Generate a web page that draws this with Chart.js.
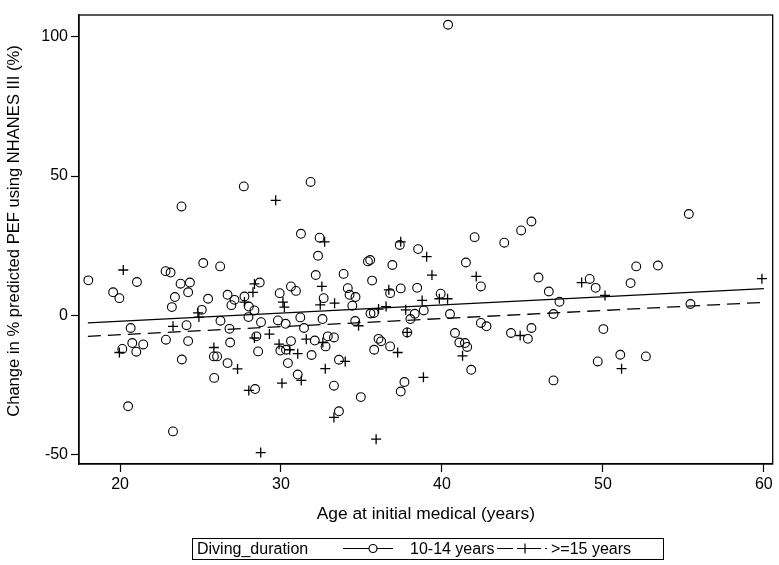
<!DOCTYPE html>
<html>
<head>
<meta charset="utf-8">
<script src="https://cdn.jsdelivr.net/npm/chart.js@4/dist/chart.umd.min.js"></script>
<style>
	html, body { margin: 0; padding: 0; background: #fff; }
	#wrap { width: 779px; height: 565px; }
</style>
</head>
<body>
<div id="wrap"><canvas id="chart" width="779" height="565"></canvas></div>
<script>
'use strict';

// 10-14 years (circles)
const ageShort = [
	18.03, 23.82, 27.69, 31.84, 31.24, 25.17, 26.22, 22.83, 23.14, 21.05,
	19.57, 19.96, 23.76, 24.34, 23.41, 24.23, 23.22, 25.47, 26.68, 27.11,
	26.92, 27.73, 28.0, 28.35, 28.68, 27.98, 25.08, 29.92, 30.62, 30.93,
	32.16, 31.2, 31.43, 29.81, 30.29, 26.24, 28.76, 26.8, 24.13, 20.66,
	20.76, 21.44, 21.01, 20.14, 22.85, 24.23, 26.84, 28.47, 28.58, 29.96,
	30.31, 30.62, 30.43, 31.9, 32.1, 23.84, 25.83, 26.03, 26.68, 25.85,
	31.04, 28.39, 20.5, 23.29, 32.4, 32.3, 35.4, 35.54, 36.92, 37.38,
	38.52, 42.03, 43.87, 44.92, 45.56, 41.49, 33.89, 35.66, 34.15, 34.26,
	34.63, 34.43, 32.65, 36.78, 37.44, 38.46, 39.92, 42.42, 46.0, 35.56,
	35.77, 38.31, 38.87, 40.5, 38.04, 32.58, 34.61, 37.84, 40.81, 42.42,
	42.77, 44.29, 45.56, 45.34, 32.91, 33.29, 32.77, 36.06, 36.22, 35.79,
	36.78, 41.08, 41.43, 41.57, 41.82, 33.6, 33.29, 34.96, 37.67, 37.44,
	33.6, 55.34, 52.07, 53.42, 49.18, 49.55, 51.72, 46.64, 47.3, 46.93,
	55.44, 50.03, 49.68, 51.08, 52.67, 46.93, 40.38
];
const changeShort = [
	12.6, 39.1, 46.3, 47.9, 29.3, 18.8, 17.6, 15.9, 15.4, 12.0,
	8.3, 6.2, 11.4, 11.8, 6.6, 8.3, 3.0, 6.0, 7.4, 5.6,
	3.7, 6.8, 3.2, 1.8, 11.8, -0.6, 2.0, 8.0, 10.4, 8.8,
	14.5, -0.7, -4.5, -1.8, -3.0, -1.9, -2.4, -4.8, -3.5, -4.5,
	-9.9, -10.4, -13.0, -12.0, -8.7, -9.2, -9.7, -7.5, -12.9, -12.6,
	-12.3, -9.2, -17.1, -14.2, -9.0, -15.8, -14.7, -14.7, -17.1, -22.4,
	-21.2, -26.4, -32.6, -41.6, 27.9, 21.4, 19.4, 19.9, 18.1, 25.3,
	23.8, 28.1, 26.1, 30.5, 33.7, 19.0, 14.9, 12.5, 9.8, 7.4,
	6.6, 3.5, 6.2, 8.0, 9.7, 9.9, 7.8, 10.4, 13.6, 0.7,
	0.9, 0.6, 1.8, 0.5, -1.3, -1.3, -2.0, -6.1, -6.3, -2.7,
	-3.9, -6.3, -4.5, -8.4, -7.5, -7.9, -11.1, -8.4, -9.3, -12.3,
	-11.1, -9.7, -9.9, -11.3, -19.5, -15.9, -25.2, -29.3, -23.9, -27.3,
	-34.4, 36.4, 17.6, 17.9, 13.1, 9.9, 11.6, 8.6, 4.9, 0.5,
	4.1, -4.9, -16.5, -14.1, -14.7, -23.3, 104.3
];

// >=15 years (plus signs)
const ageLong = [
	29.67, 20.2, 28.35, 28.26, 27.73, 30.12, 30.21, 24.84, 24.9, 23.29,
	19.96, 25.83, 28.35, 29.28, 29.88, 30.54, 31.04, 31.57, 27.3, 30.06,
	31.26, 28.0, 28.74, 32.71, 37.44, 39.05, 39.38, 42.13, 32.54, 32.44,
	33.33, 36.7, 36.53, 36.06, 37.75, 38.77, 39.84, 40.35, 34.82, 32.6,
	37.25, 33.99, 32.75, 41.28, 38.85, 44.86, 33.29, 35.91, 37.84, 48.68,
	50.13, 51.16, 59.88
];
const changeLong = [
	41.3, 16.3, 11.3, 8.3, 4.8, 4.8, 3.0, 0.9, -0.6, -3.9,
	-13.3, -11.5, -8.1, -6.7, -10.3, -12.3, -13.7, -8.5, -19.2, -24.3,
	-23.3, -26.9, -49.2, 26.4, 26.4, 21.1, 14.5, 14.0, 10.4, 3.8,
	4.4, 9.2, 3.2, 2.3, 2.0, 5.4, 6.0, 6.0, -3.7, -9.7,
	-13.3, -16.5, -19.1, -14.5, -22.2, -7.2, -36.6, -44.4, -6.1, 11.8,
	7.2, -19.1, 13.2
];

// fitted lines (end points)
const fitAge = [18, 60];
const fitShort = [-2.7, 9.6];
const fitLong = [-7.5, 4.7];

const groupLabels = ['10-14 years', '>=15 years'];
const legendTitle = 'Diving_duration';
const yTitle = 'Change in % predicted PEF using NHANES III (%)';
const xTitle = 'Age at initial medical (years)';
const xTicks = [20, 30, 40, 50, 60];
const yTicks = [-50, 0, 50, 100];

const FONT = 'Arial, "Liberation Sans", sans-serif';

function toPoints(xs, ys) {
	return xs.map((x, i) => ({ x: x, y: ys[i] }));
}

function getDatasets() {
	return [
		{
			type: 'scatter',
			label: groupLabels[0],
			data: toPoints(ageShort, changeShort),
			pointStyle: 'circle',
			pointRadius: 4.4,
			borderColor: '#000',
			backgroundColor: 'rgba(0,0,0,0)',
			pointBorderWidth: 1.1,
		},
		{
			type: 'scatter',
			label: groupLabels[1],
			data: toPoints(ageLong, changeLong),
			pointStyle: 'cross',
			pointRadius: 5,
			borderColor: '#000',
			backgroundColor: '#000',
			pointBorderWidth: 1.3,
		},
		{
			type: 'line',
			label: 'fit short',
			data: toPoints(fitAge, fitShort),
			borderColor: '#000',
			borderWidth: 1.3,
			pointRadius: 0,
			fill: false,
		},
		{
			type: 'line',
			label: 'fit long',
			data: toPoints(fitAge, fitLong),
			borderColor: '#000',
			borderWidth: 1.3,
			borderDash: [13, 7],
			pointRadius: 0,
			fill: false,
		},
	];
}

// frame round the plot, y title and the boxed legend
const framePlugin = {
	id: 'frame',
	afterDraw(chart) {
		const ctx = chart.ctx;
		const a = chart.chartArea;
		ctx.save();
		ctx.strokeStyle = '#000';
		ctx.fillStyle = '#000';
		ctx.lineWidth = 1.3;
		ctx.strokeRect(a.left, a.top, a.right - a.left, a.bottom - a.top);

		ctx.save();
		ctx.translate(14.5, 231);
		ctx.rotate(-Math.PI / 2);
		ctx.font = '16.6px ' + FONT;
		ctx.textAlign = 'center';
		ctx.textBaseline = 'middle';
		ctx.fillText(yTitle, 0, 0);
		ctx.restore();

		const top = 538, bottom = 559, left = 192, right = 663;
		const midY = (top + bottom) / 2;
		ctx.lineWidth = 1;
		ctx.strokeRect(left + 0.5, top + 0.5, right - left, bottom - top);
		ctx.font = '16px ' + FONT;
		ctx.textBaseline = 'middle';
		ctx.fillText(legendTitle, 197, midY + 1);

		// solid line with circle
		ctx.lineWidth = 1.2;
		ctx.beginPath();
		ctx.moveTo(343, midY);
		ctx.lineTo(393, midY);
		ctx.stroke();
		ctx.fillStyle = '#fff';
		ctx.beginPath();
		ctx.arc(373, midY, 4, 0, Math.PI * 2);
		ctx.fill();
		ctx.stroke();
		ctx.fillStyle = '#000';
		ctx.fillText(groupLabels[0], 410, midY + 1);

		// dashed line with plus
		ctx.setLineDash([16, 4, 24, 4, 2, 100]);
		ctx.beginPath();
		ctx.moveTo(497, midY);
		ctx.lineTo(548, midY);
		ctx.stroke();
		ctx.setLineDash([]);
		ctx.beginPath();
		ctx.moveTo(525, midY - 5);
		ctx.lineTo(525, midY + 5);
		ctx.stroke();
		ctx.fillText(groupLabels[1], 551, midY + 1);
		ctx.restore();
	},
};

function getX() {
	return {
		type: 'linear',
		min: 17.45,
		max: 60.55,
		afterBuildTicks: (scale) => {
			scale.ticks = xTicks.map((v) => ({ value: v }));
		},
		afterFit: (scale) => {
			scale.height = 61;
		},
		grid: {
			drawOnChartArea: false,
			drawTicks: true,
			tickLength: 8,
			tickColor: '#000',
			tickWidth: 1.2,
		},
		border: { display: true, color: '#000', width: 1.3 },
		ticks: {
			color: '#000',
			padding: 3,
			font: { size: 16, family: FONT },
		},
		title: {
			display: true,
			text: xTitle,
			color: '#000',
			padding: 0,
			font: { size: 17.4, family: FONT },
		},
	};
}

function getY() {
	return {
		type: 'linear',
		min: -53.3,
		max: 107.8,
		afterBuildTicks: (scale) => {
			scale.ticks = yTicks.map((v) => ({ value: v }));
		},
		afterFit: (scale) => {
			scale.width = 79;
		},
		grid: {
			drawOnChartArea: false,
			drawTicks: true,
			tickLength: 8,
			tickColor: '#000',
			tickWidth: 1.2,
		},
		border: { display: true, color: '#000', width: 1.3 },
		ticks: {
			color: '#000',
			padding: 3,
			font: { size: 16, family: FONT },
		},
		title: { display: false },
	};
}

function makeChart() {
	const ctx = document.querySelector('#chart').getContext('2d');
	const configuration = {
		type: 'scatter',
		data: { datasets: getDatasets() },
		options: {
			responsive: false,
			animation: false,
			layout: { padding: { left: 0, right: 5, top: 15, bottom: 40 } },
			plugins: {
				legend: { display: false },
				tooltip: { enabled: false },
			},
			scales: { x: getX(), y: getY() },
		},
		plugins: [framePlugin],
	};
	return new Chart(ctx, configuration);
}

makeChart();
</script>
</body>
</html>
